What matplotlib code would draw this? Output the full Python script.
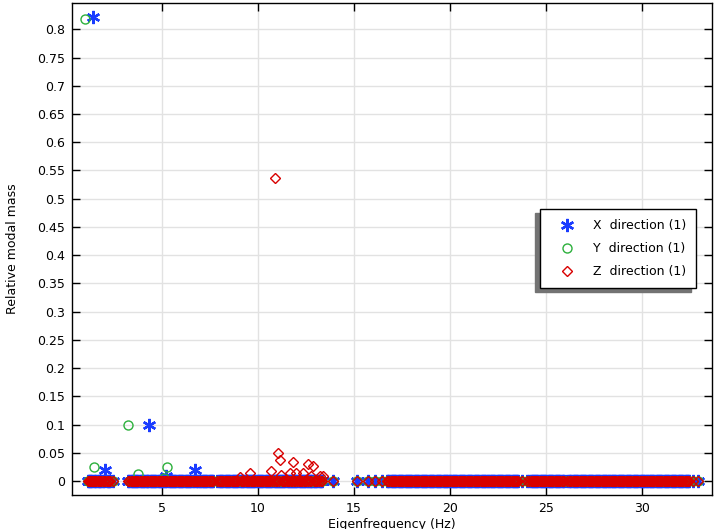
import numpy as np
import matplotlib
matplotlib.use("Agg")
import matplotlib.pyplot as plt

# Eigenfrequencies (Hz) of computed modes (baseline, ~0 modal mass)
modes_low = [1.16, 1.22, 1.27, 1.33, 1.39, 1.42, 1.47, 1.53, 1.60, 1.66, 1.72, 1.79,
             1.86, 1.93, 2.00, 2.06, 2.13, 2.20, 2.27, 2.33, 2.46]
modes_mid = [3.25, 3.31, 3.38, 3.43, 3.50, 3.56, 3.61, 3.67, 3.73, 3.78, 3.85, 3.90,
             3.96, 4.03, 4.08, 4.14, 4.21, 4.26, 4.31, 4.37, 4.44, 4.49, 4.55, 4.62,
             4.67, 4.72, 4.79, 4.84, 4.90, 4.97, 5.02, 5.08, 5.15, 5.19, 5.25, 5.30,
             5.37, 5.42, 5.48, 5.55, 5.60, 5.65, 5.72, 5.77, 5.83, 5.90, 5.95, 6.01,
             6.08, 6.13, 6.19, 6.26, 6.31, 6.37, 6.44, 6.49, 6.55, 6.62, 6.66, 6.72,
             6.79, 6.84, 6.90, 6.97, 7.02, 7.08, 7.15, 7.20, 7.26, 7.33, 7.38, 7.44,
             7.51, 7.56, 7.62, 7.68, 7.86, 7.97, 8.03, 8.10, 8.15, 8.21, 8.28, 8.33,
             8.39, 8.46, 8.51, 8.57, 8.64, 8.69, 8.75, 8.82, 8.87, 8.93, 9.00, 9.06,
             9.12, 9.19, 9.24, 9.30, 9.37, 9.42, 9.48, 9.53, 9.58, 9.65, 9.70, 9.76,
             9.83, 9.88, 9.94, 10.01, 10.06, 10.12, 10.19, 10.24, 10.30, 10.37, 10.42,
             10.48, 10.55, 10.60, 10.66, 10.71, 10.77, 10.84, 10.89, 10.95, 11.02,
             11.06, 11.11, 11.15, 11.20, 11.26, 11.33, 11.38, 11.44, 11.51, 11.56,
             11.62, 11.67, 11.73, 11.80, 11.84, 11.90, 11.96, 12.00, 12.06, 12.13,
             12.18, 12.24, 12.31, 12.36, 12.42, 12.49, 12.54, 12.60, 12.64, 12.70,
             12.76, 12.80, 12.87, 12.93, 12.99, 13.06, 13.11, 13.17, 13.24, 13.29,
             13.33, 13.93]
modes_high = [15.15, 15.76, 16.11, 16.45, 16.72, 16.80, 16.86, 16.93, 16.98, 17.04,
              17.11, 17.16, 17.22, 17.29, 17.34, 17.40, 17.47, 17.52, 17.58, 17.65,
              17.70, 17.76, 17.83, 17.88, 17.94, 18.01, 18.06, 18.12, 18.19, 18.24,
              18.30, 18.37, 18.42, 18.48, 18.55, 18.60, 18.66, 18.73, 18.78, 18.84,
              18.91, 18.96, 19.02, 19.09, 19.14, 19.20, 19.27, 19.32, 19.38, 19.45,
              19.50, 19.56, 19.63, 19.68, 19.74, 19.81, 19.86, 19.92, 19.99, 20.04,
              20.10, 20.17, 20.22, 20.28, 20.35, 20.40, 20.46, 20.53, 20.58, 20.64,
              20.71, 20.76, 20.82, 20.89, 20.94, 21.00, 21.07, 21.12, 21.18, 21.25,
              21.30, 21.36, 21.43, 21.48, 21.54, 21.61, 21.66, 21.72, 21.79, 21.84,
              21.90, 21.97, 22.02, 22.08, 22.15, 22.20, 22.26, 22.33, 22.38, 22.44,
              22.51, 22.56, 22.62, 22.69, 22.74, 22.80, 22.87, 22.92, 22.98, 23.05,
              23.10, 23.16, 23.23, 23.28, 23.34, 23.41, 23.46, 23.52, 23.58, 23.75,
              24.00, 24.14, 24.21, 24.26, 24.32, 24.39, 24.44, 24.50, 24.57, 24.62,
              24.68, 24.75, 24.80, 24.86, 24.93, 24.98, 25.04, 25.11, 25.16, 25.22,
              25.29, 25.34, 25.40, 25.47, 25.52, 25.58, 25.65, 25.70, 25.76, 25.83,
              25.88, 25.94, 26.10, 26.22, 26.29, 26.34, 26.40, 26.47, 26.52, 26.58,
              26.65, 26.70, 26.76, 26.83, 26.88, 26.94, 27.01, 27.06, 27.12, 27.19,
              27.24, 27.30, 27.37, 27.42, 27.48, 27.55, 27.60, 27.66, 27.73, 27.78,
              27.84, 27.91, 27.96, 28.02, 28.09, 28.14, 28.20, 28.27, 28.32, 28.38,
              28.45, 28.50, 28.56, 28.63, 28.68, 28.74, 28.81, 28.86, 28.92, 28.99,
              29.04, 29.10, 29.17, 29.22, 29.28, 29.35, 29.40, 29.46, 29.53, 29.58,
              29.64, 29.71, 29.76, 29.82, 29.89, 29.94, 30.00, 30.07, 30.12, 30.18,
              30.25, 30.30, 30.36, 30.43, 30.48, 30.54, 30.61, 30.66, 30.72, 30.79,
              30.84, 30.90, 30.97, 31.02, 31.08, 31.15, 31.20, 31.26, 31.33, 31.38,
              31.44, 31.51, 31.56, 31.62, 31.69, 31.74, 31.80, 31.87, 31.92, 31.98,
              32.05, 32.10, 32.16, 32.23, 32.28, 32.34, 32.41, 32.46, 32.65, 32.95]

# Modes with noticeable relative modal mass
x_peak_freq = [1.42, 2.06, 4.34, 5.25, 6.72]
x_peak_mass = [0.822, 0.0195, 0.099, 0.008, 0.0195]
y_peak_freq = [0.99, 1.47, 3.25, 3.78, 5.10, 5.30]
y_peak_mass = [0.818, 0.025, 0.099, 0.013, 0.005, 0.024]
z_peak_freq = [9.06, 9.58, 10.71, 10.89, 11.06, 11.15, 11.20, 11.67, 11.84, 12.00,
               12.36, 12.64, 12.80, 12.87, 13.24, 13.40]
z_peak_mass = [0.007, 0.015, 0.017, 0.536, 0.049, 0.037, 0.011, 0.014, 0.034, 0.014,
               0.015, 0.030, 0.008, 0.027, 0.009, 0.009]

labels = ["X  direction (1)", "Y  direction (1)", "Z  direction (1)"]
x_ticks = [5, 10, 15, 20, 25, 30]
y_ticks = [0, 0.05, 0.1, 0.15, 0.2, 0.25, 0.3, 0.35, 0.4, 0.45, 0.5, 0.55, 0.6,
           0.65, 0.7, 0.75, 0.8]
y_tick_labels = ["0", "0.05", "0.1", "0.15", "0.2", "0.25", "0.3", "0.35", "0.4",
                 "0.45", "0.5", "0.55", "0.6", "0.65", "0.7", "0.75", "0.8"]

plt.rcParams['font.family'] = ['DejaVu Sans']
fig = plt.figure(figsize=(7.16, 5.29), dpi=100)
ax = fig.add_axes([72/716, 1 - 495/529, 640/716, 492/529])

all_modes = np.array(modes_low + modes_mid + modes_high)

def series(peak_f, peak_m):
    base = all_modes[~np.isin(all_modes, peak_f)]
    f = np.concatenate([base, np.array(peak_f)])
    m = np.concatenate([np.zeros(len(base)), np.array(peak_m)])
    return f, m

blue = "#1a3cff"
green = "#2cb03c"
red = "#d80000"

fx, mx = series(x_peak_freq, x_peak_mass)
fy, my = series(y_peak_freq, y_peak_mass)
fz, mz = series(z_peak_freq, z_peak_mass)

ax.plot(fx, mx, linestyle='none', marker=(6, 2, 0), markersize=9.5,
        markeredgewidth=1.7, color=blue, label=labels[0], zorder=3)
ax.plot(fy, my, linestyle='none', marker='o', markersize=6.5,
        markeredgewidth=1.0, markerfacecolor='none', markeredgecolor=green,
        label=labels[1], zorder=4)
ax.plot(fz, mz, linestyle='none', marker='D', markersize=5.0,
        markeredgewidth=1.0, markerfacecolor='none', markeredgecolor=red,
        label=labels[2], zorder=5)

ax.set_xlim(0.33, 33.66)
ax.set_ylim(-0.0248, 0.8466)
ax.set_xticks(x_ticks)
ax.set_yticks(y_ticks)
ax.set_yticklabels(y_tick_labels)
ax.grid(True, color="#e2e2e2", linewidth=1.0, zorder=0)
ax.set_axisbelow(True)
ax.tick_params(direction='in', length=5.5, width=1, top=True, right=True,
               labelsize=9, pad=5, colors='black')
for s in ax.spines.values():
    s.set_linewidth(1.0)
    s.set_color('black')

ax.set_xlabel("Eigenfrequency (Hz)", fontsize=9, labelpad=2)
ax.set_ylabel("Relative modal mass", fontsize=9, labelpad=13)

leg = ax.legend(loc='upper right', bbox_to_anchor=(0.975, 0.581), borderaxespad=0,
                fontsize=9, numpoints=1, handlelength=2.7, handletextpad=0.75,
                borderpad=0.8, labelspacing=0.8, fancybox=False,
                shadow={'ox': -3.6, 'oy': -3.0, 'color': '0.45', 'alpha': 1.0})
leg.get_frame().set_edgecolor('black')
leg.get_frame().set_linewidth(1.0)
leg.get_frame().set_alpha(1.0)

fig.savefig("out.png", dpi=100)
